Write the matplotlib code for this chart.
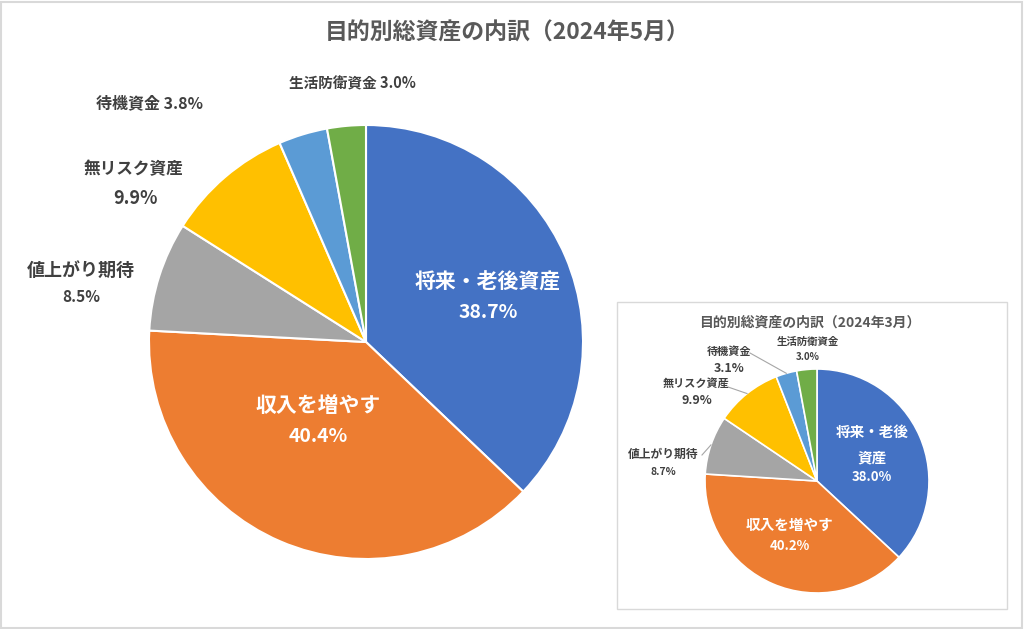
import matplotlib
matplotlib.use("Agg")
import matplotlib.pyplot as plt
from matplotlib.patches import Rectangle
import numpy as np

plt.rcParams['font.family'] = ['Noto Sans CJK JP', 'DejaVu Sans']

# data
categories = ["将来・老後資産", "収入を増やす", "値上がり期待", "無リスク資産", "待機資金", "生活防衛資金"]
may_values = [38.7, 40.4, 8.5, 9.9, 3.8, 3.0]
mar_values = [38.0, 40.2, 8.7, 9.9, 3.1, 3.0]
colors = ["#4472C4", "#ED7D31", "#A5A5A5", "#FFC000", "#5B9BD5", "#70AD47"]
title_may = "目的別総資産の内訳（2024年5月）"
title_mar = "目的別総資産の内訳（2024年3月）"
# names shown in the small chart (line break inside the blue slice)
mar_names = ["将来・老後\n資産", "収入を増やす", "値上がり期待", "無リスク資産", "待機資金", "生活防衛資金"]

W, H = 1024, 629
DARK = "#404040"


def Y(y):
    # pixel y (from top) -> axes data y
    return H - y


fig = plt.figure(figsize=(W / 100, H / 100), dpi=100)
ax = fig.add_axes([0, 0, 1, 1])

# outer frame and inset frame
ax.add_patch(Rectangle((1, 1), W - 3, H - 3, fill=False, edgecolor="#d9d9d9", lw=1.5))
ax.add_patch(Rectangle((617, Y(609)), 390, 307, fill=False, edgecolor="#d9d9d9", lw=1))

# ---- main pie (May) ----
main_c = (366, Y(342))
wedges, _ = ax.pie(may_values, colors=colors, startangle=90, counterclock=False,
                   center=main_c, radius=217, frame=True,
                   wedgeprops=dict(edgecolor="white", linewidth=1.5))

ax.text(W / 2 - 5, Y(33), title_may, ha="center", va="center", fontsize=16.5,
        fontweight="bold", color="#595959")

# label layout: (name x, name y, name size, value x, value y, value size, colour)
main_layout = [
    (488, 282, 15, 488, 313, 14, "white"),
    (318, 405, 15, 318, 437, 14, "white"),
    (81, 270, 13, 81, 297, 11, DARK),
    (133, 169, 12, 136, 198, 13, DARK),
]
for i, (nx, ny, ns, vx, vy, vs, col) in enumerate(main_layout):
    ax.text(nx, Y(ny), categories[i], ha="center", va="center", fontsize=ns,
            fontweight="bold", color=col)
    ax.text(vx, Y(vy), f"{may_values[i]:.1f}%", ha="center", va="center",
            fontsize=vs, fontweight="bold", color=col)
ax.text(150, Y(103), f"{categories[4]} {may_values[4]:.1f}%", ha="center",
        va="center", fontsize=11.5, fontweight="bold", color=DARK)
ax.text(352, Y(83), f"{categories[5]} {may_values[5]:.1f}%", ha="center",
        va="center", fontsize=10.5, fontweight="bold", color=DARK)

# ---- inset pie (March) ----
sub_c = (817, Y(481))
sub_r = 112
sub_wedges, _ = ax.pie(mar_values, colors=colors, startangle=90, counterclock=False,
                       center=sub_c, radius=sub_r, frame=True,
                       wedgeprops=dict(edgecolor="white", linewidth=1.2))

ax.text(810, Y(323), title_mar, ha="center", va="center", fontsize=10,
        fontweight="bold", color="#595959")

sub_layout = [
    (872, 445, 10.5, 872, 477, 9.5, "white"),
    (790, 525, 10.5, 790, 546, 9.5, "white"),
    (663, 454, 8.5, 663, 472, 7.5, DARK),
    (696, 383, 8, 697, 401, 9, DARK),
    (729, 351, 8, 729, 368, 9, DARK),
    (808, 342, 7.5, 808, 357, 7, DARK),
]
for i, (nx, ny, ns, vx, vy, vs, col) in enumerate(sub_layout):
    ax.text(nx, Y(ny), mar_names[i], ha="center", va="center", fontsize=ns,
            fontweight="bold", color=col, linespacing=1.75)
    ax.text(vx, Y(vy), f"{mar_values[i]:.1f}%", ha="center", va="center",
            fontsize=vs, fontweight="bold", color=col)

# leader lines: from the end of the label to the slice edge
leader_start = {2: (702, 455), 3: (728, 387), 4: (750, 353)}
for i, (sx, sy) in leader_start.items():
    w = sub_wedges[i]
    ang = np.deg2rad((w.theta1 + w.theta2) / 2)
    ex = sub_c[0] + sub_r * np.cos(ang)
    ey = sub_c[1] + sub_r * np.sin(ang)
    ax.plot([sx, ex], [Y(sy), ey], color="#a6a6a6", lw=0.8)

ax.set_xlim(0, W)
ax.set_ylim(0, H)
ax.set_aspect("equal")
ax.axis("off")

fig.savefig("out.png", dpi=100)
